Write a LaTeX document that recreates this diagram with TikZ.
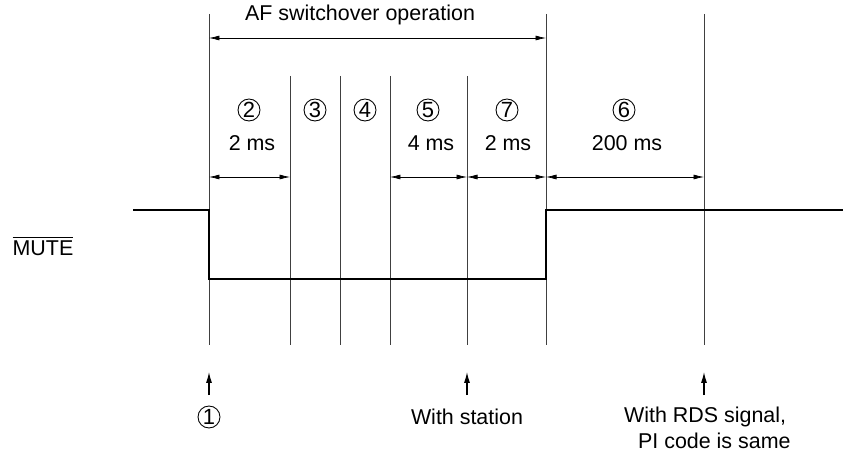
\documentclass[tikz,border=0pt]{standalone}
\usepackage{fontspec}
\setmainfont{Liberation Sans}
\usetikzlibrary{arrows.meta}

\begin{document}
\begin{tikzpicture}[x=0.02cm,y=-0.02cm,
  tline/.style={line width=0.5pt,draw=black!75},
  sig/.style={line width=1.4pt},
  dim/.style={line width=0.4pt,{Latex[length=2.1mm,width=1mm]}-{Latex[length=2.1mm,width=1mm]}},
  up/.style={line width=0.6pt,-{Latex[length=2.2mm,width=1.2mm]}},
  lbl/.style={font=\fontsize{12.2}{14.5}\selectfont,inner sep=1pt},
  num/.style={circle,draw,line width=0.5pt,minimum size=0.44cm,inner sep=0pt,
    font=\fontsize{12.5}{12.5}\selectfont}]
\useasboundingbox (0,0) rectangle (843,456);

% time marks
\coordinate (t1) at (209,14);
\coordinate (t2) at (290,76);
\coordinate (t3) at (340,76);
\coordinate (t4) at (390,76);
\coordinate (t5) at (467,76);
\coordinate (t6) at (546,14);
\coordinate (t7) at (704,14);
\foreach \n/\x in {1/209,2/290,3/340,4/390,5/467,6/546,7/704}{
  \coordinate (b\n) at (\x,345);
  \coordinate (d\n) at (\x,177);
  \draw[tline] (t\n) -- (b\n);
}

% AF switchover span
\coordinate (a1) at (209,38);
\coordinate (a6) at (546,38);
\draw[dim] (a1) -- (a6);
\node[lbl] (af) at (360,15) {AF switchover operation};

% intervals
\node[num] (n2) at (249,110) {2};
\node[num] (n3) at (315,110) {3};
\node[num] (n4) at (365,110) {4};
\node[num] (n5) at (428,110) {5};
\node[num] (n7) at (507,110) {7};
\node[num] (n6) at (624,110) {6};
\node[lbl] (m2) at (252,143) {2 ms};
\node[lbl] (m5) at (431,143) {4 ms};
\node[lbl] (m7) at (508,143) {2 ms};
\node[lbl] (m6) at (627,143) {200 ms};
\draw[dim] (d1) -- (d2);
\draw[dim] (d4) -- (d5);
\draw[dim] (d5) -- (d6);
\draw[dim] (d6) -- (d7);

% MUTE signal
\node[lbl] (mute) at (43,246) {$\overline{\mbox{MUTE}}$};
\draw[sig] (133,210) -- (209,210) -- (209,279) -- (546,279) -- (546,210) -- (843,210);

% events
\coordinate (u1) at (209,395);
\coordinate (v1) at (209,372);
\coordinate (u5) at (467,395);
\coordinate (v5) at (467,372);
\coordinate (u7) at (704,395);
\coordinate (v7) at (704,372);
\draw[up] (u1) -- (v1);
\draw[up] (u5) -- (v5);
\draw[up] (u7) -- (v7);
\node[num] (e1) at (209,417) {1};
\node[lbl] (e5) at (467,417) {With station};
\node[lbl,align=left,anchor=west] (e7) at (622,428) {With RDS signal,\\\hspace*{0.28cm}PI code is same};
\end{tikzpicture}
\end{document}
